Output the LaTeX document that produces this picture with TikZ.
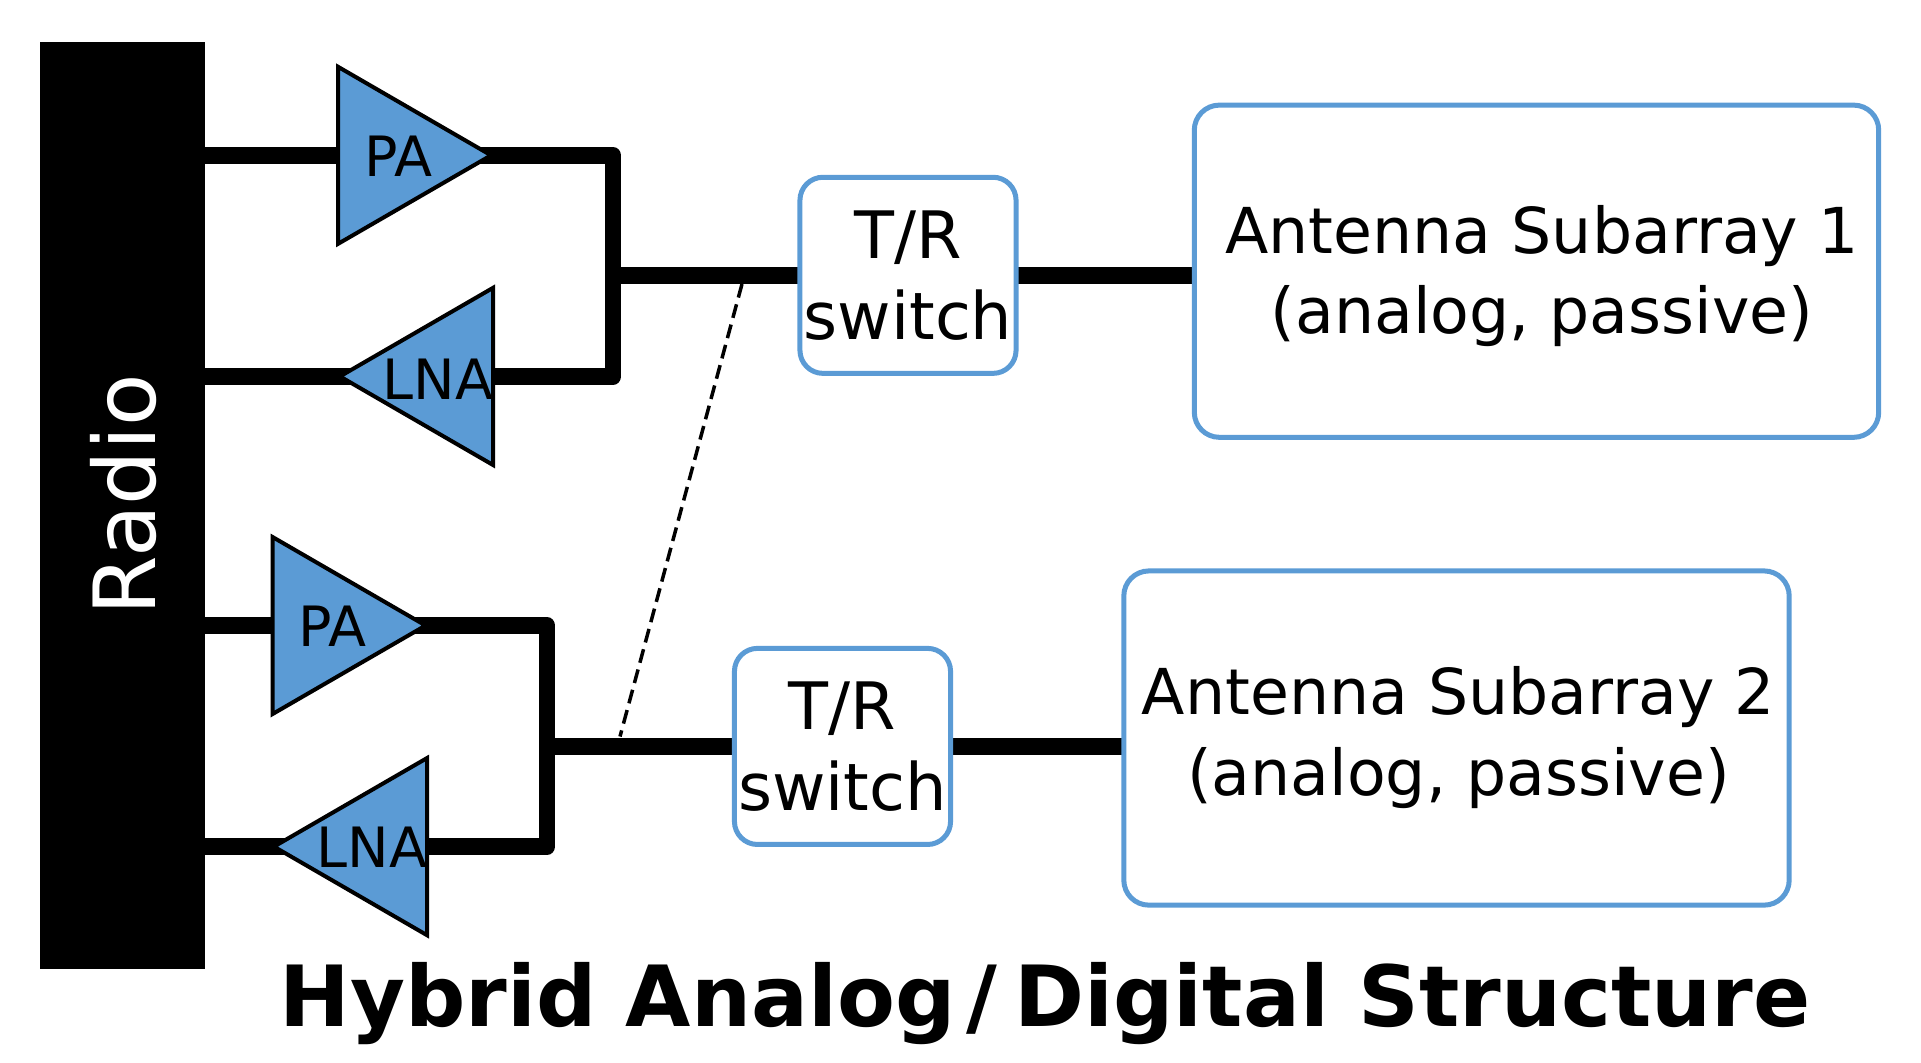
\documentclass[tikz,border=0pt]{standalone}
\usepackage{fontspec}
\setmainfont{DejaVu Sans}
\usetikzlibrary{shapes.geometric,backgrounds}
\definecolor{ampblue}{HTML}{5B9BD5}
\tikzset{
  wire/.style={line width=0.166cm, line join=round},
  amp/.style={shape=isosceles triangle, isosceles triangle stretches=true, draw=black, fill=ampblue, line width=0.04cm, inner sep=0pt, outer sep=0pt, minimum width=1.77cm, minimum height=1.53cm},
  ampleft/.style={amp, shape border rotate=180},
  amptext/.style={font=\fontsize{15.8}{18}\selectfont, inner sep=0pt},
  switchbox/.style={draw=ampblue, line width=0.05cm, rounded corners=0.23cm, inner sep=0pt, outer sep=0pt, minimum width=2.16cm, minimum height=1.96cm, align=center, font=\fontsize{18.6}{23}\selectfont},
  antbox/.style={draw=ampblue, line width=0.05cm, rounded corners=0.25cm, inner sep=0pt, outer sep=0pt},
  anttext/.style={align=center, inner sep=0pt, font=\fontsize{18}{22.8}\selectfont}
}
\begin{document}
\begin{tikzpicture}[x=0.01cm, y=-0.01cm]
\useasboundingbox (0,0) rectangle (1921,1062);

\node [fill=black, inner sep=0pt, outer sep=0pt, minimum width=1.65cm, minimum height=9.26cm] (radio) at (122.5,505.5) {};
\node [rotate=90, anchor=base, text=white, font=\fontsize{24.4}{28}\selectfont, inner sep=0pt] (radiotext) at (155,495) {Radio};

\node [amp, anchor=lower side] (pa1) at (338,155.3) {};
\node [ampleft, anchor=lower side] (lna1) at (493,376.4) {};
\node [amp, anchor=lower side] (pa2) at (272.5,625.5) {};
\node [ampleft, anchor=lower side] (lna2) at (427,846.6) {};

\node [amptext] (patext1) at (398,156) {PA};
\node [amptext] (lnatext1) at (438,379) {LNA};
\node [amptext] (patext2) at (332,626) {PA};
\node [amptext] (lnatext2) at (372,847) {LNA};

\node [switchbox] (tr1) at (908,275.3) {T/R\\switch};
\node [switchbox] (tr2) at (842.5,746.4) {T/R\\switch};
\node [antbox, minimum width=6.84cm, minimum height=3.32cm] (ant1) at (1536.5,271.2) {};
\node [antbox, minimum width=6.65cm, minimum height=3.34cm] (ant2) at (1456.5,738) {};
\node [anttext] (anttext1) at (1542,276) {Antenna Subarray 1\\(analog, passive)};
\node [anttext] (anttext2) at (1458.5,737.5) {Antenna Subarray 2\\(analog, passive)};

\coordinate (top1) at (613,155.3);
\coordinate (bot1) at (613,376.4);
\coordinate (top2) at (547,625.5);
\coordinate (bot2) at (547,846.6);
\coordinate (dash1) at (742,284);
\coordinate (dash2) at (620,736.5);

\begin{scope}[on background layer]
\draw [wire] (radio.east |- pa1.lower side) -- (pa1.center);
\draw [wire] (radio.east |- lna1.apex) -- (lna1.center);
\draw [wire] (pa1.center) -- (top1) -- (bot1) -- (lna1.center);
\draw [wire] (tr1.west -| top1) -- (tr1.west);
\draw [wire] (tr1.east) -- (tr1.east -| ant1.west);
\draw [wire] (radio.east |- pa2.lower side) -- (pa2.center);
\draw [wire] (radio.east |- lna2.apex) -- (lna2.center);
\draw [wire] (pa2.center) -- (top2) -- (bot2) -- (lna2.center);
\draw [wire] (tr2.west -| top2) -- (tr2.west);
\draw [wire] (tr2.east) -- (tr2.east -| ant2.west);
\end{scope}
\draw [line width=0.035cm, dash pattern=on 0.14cm off 0.07cm] (dash1) -- (dash2);

\node [anchor=base, font=\fontsize{24}{28}\selectfont\bfseries, inner sep=0pt] (title) at (1045,1026) {Hybrid Analog\kern3pt/\kern5pt Digital Structure};
\end{tikzpicture}
\end{document}
